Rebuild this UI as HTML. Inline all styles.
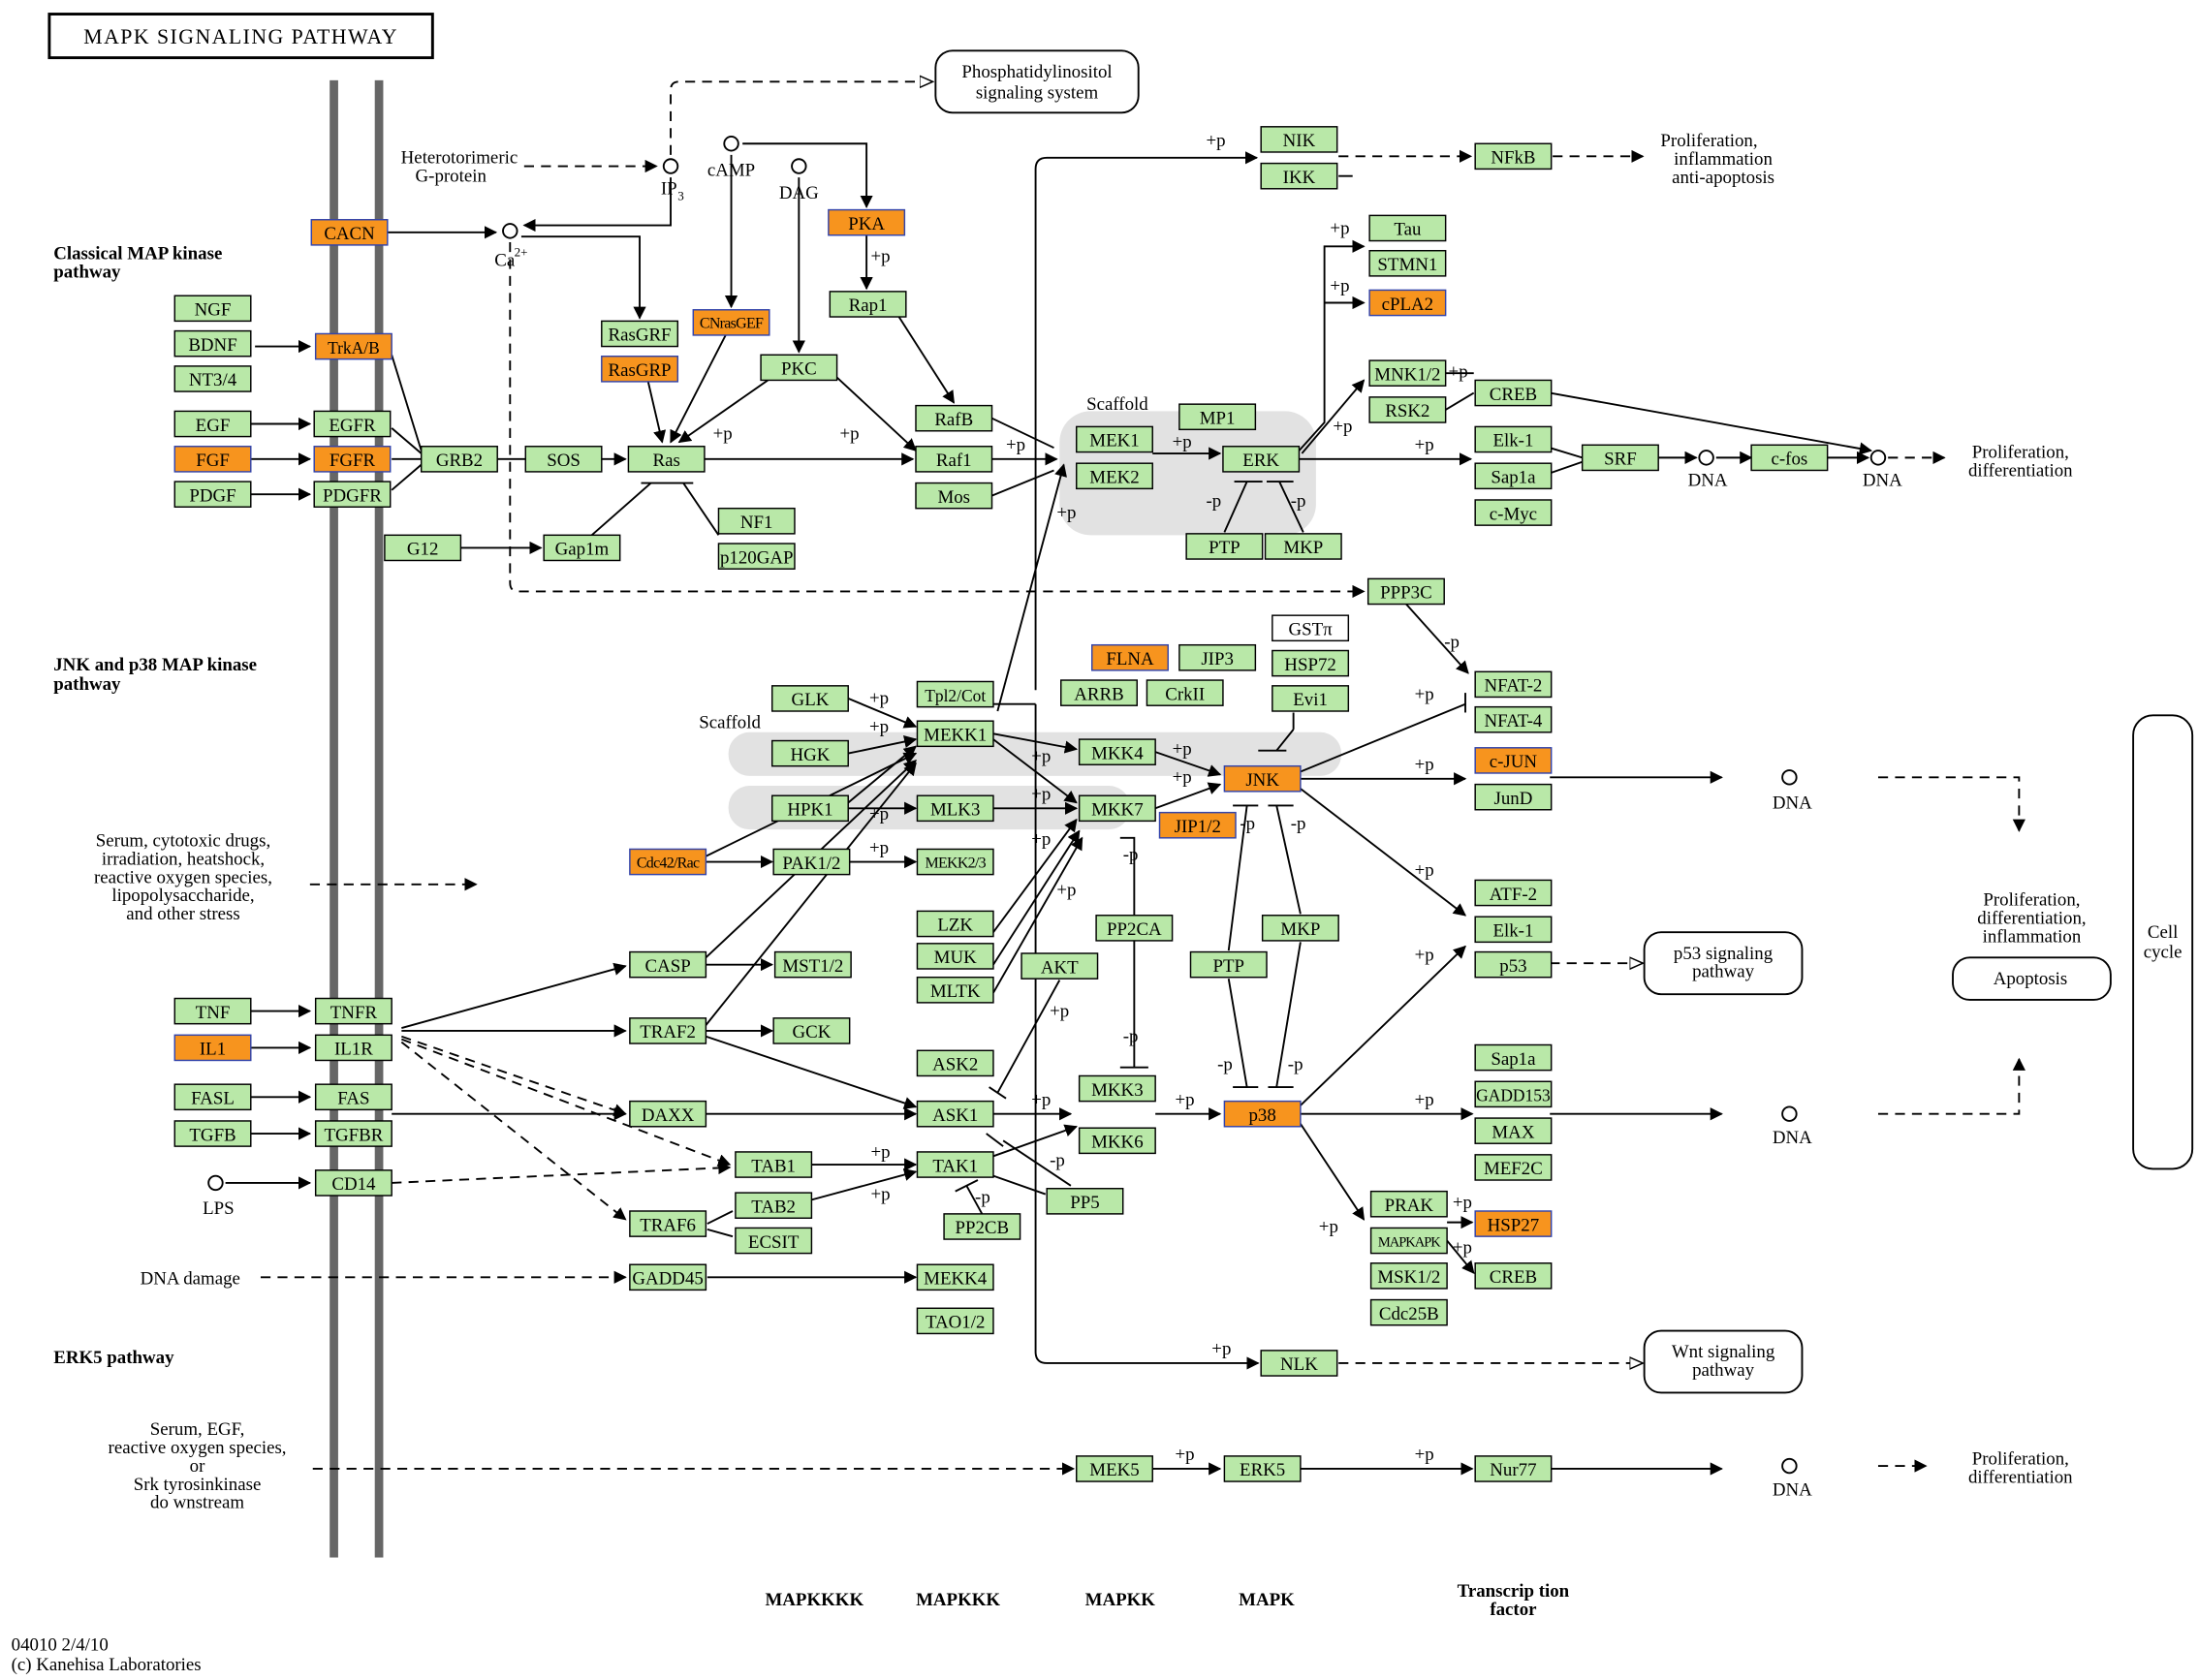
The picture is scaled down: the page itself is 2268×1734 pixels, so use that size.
<!DOCTYPE html>
<html><head><meta charset="utf-8"><style>
html,body{margin:0;padding:0;background:#fff;}
svg{display:block;}
text{font-family:"Liberation Serif",serif;font-size:13px;fill:#000;}
.n{fill:#b9e8a8;stroke:#000;stroke-width:1;}
.o{fill:#f7941e;stroke:#3344aa;stroke-width:1;}
.w{fill:#fff;stroke:#000;stroke-width:1;}
.l{stroke:#000;stroke-width:1.3;fill:none;}
.d{stroke:#000;stroke-width:1.3;fill:none;stroke-dasharray:7 5;}
.b{font-weight:bold;font-size:13px;}
.s{font-size:12px;}
</style></head><body>
<svg width="2268" height="1734" viewBox="0 0 1560 1193" preserveAspectRatio="none" xmlns="http://www.w3.org/2000/svg">
<defs>
<marker id="a" viewBox="0 0 10 10" refX="9" refY="5" markerWidth="7" markerHeight="7" orient="auto"><path d="M0,0 L10,5 L0,10z" fill="#000"/></marker>
<marker id="oa" viewBox="0 0 10 10" refX="9" refY="5" markerWidth="8" markerHeight="8" orient="auto"><path d="M0,1 L9,5 L0,9z" fill="#fff" stroke="#000"/></marker>
</defs>
<rect width="1560" height="1193" fill="#fff"/>
<rect x="35" y="10" width="272" height="31" fill="#fff" stroke="#000" stroke-width="2"/>
<text x="171" y="31" style="text-anchor:middle;font-size:15px;letter-spacing:1px">MAPK SIGNALING PATHWAY</text>
<rect x="234" y="57" width="6" height="1049" fill="#666"/>
<rect x="266" y="57" width="6" height="1049" fill="#666"/>
<rect x="752" y="292" width="182" height="88" rx="22" fill="#e2e2e2"/>
<rect x="517" y="520" width="435" height="31" rx="15" fill="#e2e2e2"/>
<rect x="517" y="558" width="285" height="31" rx="15" fill="#e2e2e2"/>

<g>
<path class="l" d="M181,246 H220" marker-end="url(#a)"/>
<path class="l" d="M178,301 H220" marker-end="url(#a)"/>
<path class="l" d="M178,326 H220" marker-end="url(#a)"/>
<path class="l" d="M178,351 H220" marker-end="url(#a)"/>
<path class="l" d="M278,252 L299,320 M278,304 L299,322 M278,326 H299 M278,348 L299,330"/>
<path class="l" d="M353,326 H373"/>
<path class="l" d="M427,326 H444" marker-end="url(#a)"/>
<path class="l" d="M500,326 H648" marker-end="url(#a)"/>
<path class="l" d="M275,165 H352" marker-end="url(#a)"/>
<path class="l" d="M476,126 V160 H372" marker-end="url(#a)"/>
<path class="l" d="M370,168 H454 V226" marker-end="url(#a)"/>
<path class="l" d="M527,102 H615 V147" marker-end="url(#a)"/>
<path class="l" d="M519,110 V218" marker-end="url(#a)"/>
<path class="l" d="M567,126 V250" marker-end="url(#a)"/>
<path class="l" d="M615,167 V205" marker-end="url(#a)"/>
<path class="l" d="M638,225 L677,286" marker-end="url(#a)"/>
<path class="l" d="M594,268 L650,320" marker-end="url(#a)"/>
<path class="l" d="M545,270 L482,314" marker-end="url(#a)"/>
<path class="l" d="M460,271 L470,314" marker-end="url(#a)"/>
<path class="l" d="M515,238 L476,314" marker-end="url(#a)"/>
<path class="l" d="M327,389 H384" marker-end="url(#a)"/>
<path class="l" d="M420,380 L462,343 M510,380 L485,343 M455,343 H492"/>
<path class="l" d="M704,326 H750" marker-end="url(#a)"/>
<path class="l" d="M704,297 L748,318 M704,352 L748,334"/>
<path class="l" d="M818,322 H866" marker-end="url(#a)"/>
<path class="l" d="M922,320 L940,300 V175 H968" marker-end="url(#a)"/>
<path class="l" d="M940,215 H968" marker-end="url(#a)"/>
<path class="l" d="M924,322 L968,270" marker-end="url(#a)"/>
<path class="l" d="M922,326 H1044" marker-end="url(#a)"/>
<path class="l" d="M869,378 L885,342 M925,378 L908,342 M876,342 H896 M899,342 H918"/>
<path class="l" d="M1100,318 L1123,325 M1100,336 L1123,328"/>
<path class="l" d="M1177,325 H1204" marker-end="url(#a)"/>
<path class="l" d="M1218,325 H1243" marker-end="url(#a)"/>
<path class="l" d="M1297,325 H1326" marker-end="url(#a)"/>
<path class="l" d="M1100,279 L1328,320" marker-end="url(#a)"/>
<path class="l" d="M1026,291 L1046,279"/>
<path class="l" d="M1026,265 H1046"/>
<path class="l" d="M735,500 H705 M735,490 V120 Q735,112 743,112 H892" marker-end="url(#a)"/>
<path class="l" d="M735,500 V960 Q735,968 743,968 H893" marker-end="url(#a)"/>
<path class="l" d="M708,505 L755,330" marker-end="url(#a)"/>
<path class="l" d="M950,125 H960"/>
<path class="l" d="M705,521 L764,532" marker-end="url(#a)"/>
<path class="l" d="M705,525 L764,570" marker-end="url(#a)"/>
<path class="l" d="M820,534 L866,550" marker-end="url(#a)"/>
<path class="l" d="M820,574 L866,557" marker-end="url(#a)"/>
<path class="l" d="M923,553 H1040" marker-end="url(#a)"/>
<path class="l" d="M923,548 L1040,500"/>
<path class="l" d="M1040,492 V506"/>
<path class="l" d="M923,560 L1040,650" marker-end="url(#a)"/>
<path class="l" d="M998,429 L1042,478" marker-end="url(#a)"/>
<path class="l" d="M918,506 V518 M906,533 L918,518 M893,533 H913"/>
<path class="l" d="M1100,552 H1222" marker-end="url(#a)"/>
<path class="l" d="M602,496 L650,516" marker-end="url(#a)"/>
<path class="l" d="M602,535 L650,525" marker-end="url(#a)"/>
<path class="l" d="M602,570 L650,530" marker-end="url(#a)"/>
<path class="l" d="M501,608 L650,535" marker-end="url(#a)"/>
<path class="l" d="M602,574 H650" marker-end="url(#a)"/>
<path class="l" d="M705,574 H764" marker-end="url(#a)"/>
<path class="l" d="M501,612 H548" marker-end="url(#a)"/>
<path class="l" d="M603,612 H650" marker-end="url(#a)"/>
<path class="l" d="M705,662 L764,582" marker-end="url(#a)"/>
<path class="l" d="M705,685 L766,590" marker-end="url(#a)"/>
<path class="l" d="M705,705 L768,595" marker-end="url(#a)"/>
<path class="l" d="M501,680 L650,540" marker-end="url(#a)"/>
<path class="l" d="M501,685 H548" marker-end="url(#a)"/>
<path class="l" d="M501,728 L650,542" marker-end="url(#a)"/>
<path class="l" d="M501,732 H548" marker-end="url(#a)"/>
<path class="l" d="M501,736 L650,786" marker-end="url(#a)"/>
<path class="l" d="M501,791 H650" marker-end="url(#a)"/>
<path class="l" d="M705,791 H760" marker-end="url(#a)"/>
<path class="l" d="M820,791 H866" marker-end="url(#a)"/>
<path class="l" d="M923,791 H1045" marker-end="url(#a)"/>
<path class="l" d="M923,785 L1040,672" marker-end="url(#a)"/>
<path class="l" d="M923,798 L968,866" marker-end="url(#a)"/>
<path class="l" d="M1100,791 H1222" marker-end="url(#a)"/>
<path class="l" d="M1027,868 H1045" marker-end="url(#a)"/>
<path class="l" d="M1027,881 L1046,904" marker-end="url(#a)"/>
<path class="l" d="M872,675 L885,572 M923,649 L906,572 M875,572 H893 M900,572 H918"/>
<path class="l" d="M872,695 L885,772 M923,669 L906,772 M875,772 H893 M900,772 H918"/>
<path class="l" d="M805,668 V758 M795,758 H815 M795,595 H805 L805,650"/>
<path class="l" d="M752,696 L708,776 M702,772 L714,780"/>
<path class="l" d="M178,718 H220" marker-end="url(#a)"/>
<path class="l" d="M178,744 H220" marker-end="url(#a)"/>
<path class="l" d="M178,779 H220" marker-end="url(#a)"/>
<path class="l" d="M178,805 H220" marker-end="url(#a)"/>
<path class="l" d="M160,840 H220" marker-end="url(#a)"/>
<path class="l" d="M285,730 L444,686" marker-end="url(#a)"/>
<path class="l" d="M285,732 H444" marker-end="url(#a)"/>
<path class="l" d="M278,791 H444" marker-end="url(#a)"/>
<path class="l" d="M576,827 H650" marker-end="url(#a)"/>
<path class="l" d="M576,852 L650,832" marker-end="url(#a)"/>
<path class="l" d="M502,869 L520,860 M502,873 L520,878"/>
<path class="l" d="M502,907 H650" marker-end="url(#a)"/>
<path class="l" d="M705,821 L764,800" marker-end="url(#a)"/>
<path class="l" d="M705,835 L742,848 M686,842 L697,862 M678,846 L694,838"/>
<path class="l" d="M700,805 L712,814 M712,810 L760,842"/>
<path class="l" d="M818,1043 H866" marker-end="url(#a)"/>
<path class="l" d="M923,1043 H1045" marker-end="url(#a)"/>
<path class="l" d="M1100,1043 H1222" marker-end="url(#a)"/>
</g>
<g>
<path class="d" d="M372,118 H466" marker-end="url(#a)"/>
<path class="d" d="M476,110 V64 Q476,58 482,58 H662" marker-end="url(#oa)"/>
<path class="d" d="M362,172 V414 Q362,420 368,420 H968" marker-end="url(#a)"/>
<path class="d" d="M950,111 H1044" marker-end="url(#a)"/>
<path class="d" d="M1102,111 H1166" marker-end="url(#a)"/>
<path class="d" d="M1340,325 H1380" marker-end="url(#a)"/>
<path class="d" d="M220,628 H338" marker-end="url(#a)"/>
<path class="d" d="M285,736 L444,791" marker-end="url(#a)"/>
<path class="d" d="M285,738 L518,827" marker-end="url(#a)"/>
<path class="d" d="M285,740 L444,866" marker-end="url(#a)"/>
<path class="d" d="M278,840 L518,829" marker-end="url(#a)"/>
<path class="d" d="M185,907 H444" marker-end="url(#a)"/>
<path class="d" d="M222,1043 H762" marker-end="url(#a)"/>
<path class="d" d="M950,968 H1166" marker-end="url(#oa)"/>
<path class="d" d="M1100,684 H1166" marker-end="url(#oa)"/>
<path class="d" d="M1333,552 H1433 V590" marker-end="url(#a)"/>
<path class="d" d="M1333,791 H1433 V752" marker-end="url(#a)"/>
<path class="d" d="M1333,1041 H1367" marker-end="url(#a)"/>
</g>

<g fill="#fff" stroke="#000" stroke-width="1.3">
<circle cx="476" cy="118" r="5"/><circle cx="362" cy="164" r="5"/><circle cx="519" cy="102" r="5"/><circle cx="567" cy="118" r="5"/>
<circle cx="1211" cy="325" r="5"/><circle cx="1333" cy="325" r="5"/><circle cx="1270" cy="552" r="5"/><circle cx="1270" cy="791" r="5"/><circle cx="1270" cy="1041" r="5"/><circle cx="153" cy="840" r="5"/>
</g>

<g fill="#fff" stroke="#000" stroke-width="1.3">
<rect x="664" y="36" width="144" height="44" rx="12"/>
<rect x="1167" y="662" width="112" height="44" rx="12"/>
<rect x="1167" y="945" width="112" height="44" rx="12"/>
<rect x="1386" y="680" width="112" height="30" rx="12"/>
<rect x="1514" y="508" width="42" height="322" rx="14"/>
</g>
<g style="text-anchor:middle">
<text x="736" y="55">Phosphatidylinositol</text><text x="736" y="70">signaling system</text>
<text x="1223" y="681">p53 signaling</text><text x="1223" y="694">pathway</text>
<text x="1223" y="964">Wnt signaling</text><text x="1223" y="977">pathway</text>
<text x="1441" y="699">Apoptosis</text>
<text x="1535" y="666">Cell</text><text x="1535" y="680">cycle</text>
</g>

<g>
<rect class="o" x="221" y="156" width="54" height="18"/>
<rect class="o" x="224" y="237" width="54" height="18"/>
<rect class="n" x="223" y="292" width="54" height="18"/>
<rect class="o" x="223" y="317" width="54" height="18"/>
<rect class="n" x="223" y="342" width="54" height="18"/>
<rect class="n" x="124" y="210" width="54" height="18"/>
<rect class="n" x="124" y="235" width="54" height="18"/>
<rect class="n" x="124" y="260" width="54" height="18"/>
<rect class="n" x="124" y="292" width="54" height="18"/>
<rect class="o" x="124" y="317" width="54" height="18"/>
<rect class="n" x="124" y="342" width="54" height="18"/>
<rect class="n" x="299" y="317" width="54" height="18"/>
<rect class="n" x="373" y="317" width="54" height="18"/>
<rect class="n" x="446" y="317" width="54" height="18"/>
<rect class="n" x="273" y="380" width="54" height="18"/>
<rect class="n" x="386" y="380" width="54" height="18"/>
<rect class="n" x="427" y="228" width="54" height="18"/>
<rect class="o" x="427" y="253" width="54" height="18"/>
<rect class="o" x="492" y="220" width="54" height="18"/>
<rect class="n" x="540" y="252" width="54" height="18"/>
<rect class="o" x="588" y="149" width="54" height="18"/>
<rect class="n" x="589" y="207" width="54" height="18"/>
<rect class="n" x="650" y="288" width="54" height="18"/>
<rect class="n" x="650" y="317" width="54" height="18"/>
<rect class="n" x="650" y="343" width="54" height="18"/>
<rect class="n" x="510" y="361" width="54" height="18"/>
<rect class="n" x="510" y="386" width="54" height="18"/>
<rect class="n" x="764" y="303" width="54" height="18"/>
<rect class="n" x="764" y="329" width="54" height="18"/>
<rect class="n" x="837" y="287" width="54" height="18"/>
<rect class="n" x="868" y="317" width="54" height="18"/>
<rect class="n" x="842" y="379" width="54" height="18"/>
<rect class="n" x="898" y="379" width="54" height="18"/>
<rect class="n" x="895" y="90" width="54" height="18"/>
<rect class="n" x="895" y="116" width="54" height="18"/>
<rect class="n" x="1047" y="102" width="54" height="18"/>
<rect class="n" x="972" y="153" width="54" height="18"/>
<rect class="n" x="972" y="178" width="54" height="18"/>
<rect class="o" x="972" y="206" width="54" height="18"/>
<rect class="n" x="972" y="256" width="54" height="18"/>
<rect class="n" x="972" y="282" width="54" height="18"/>
<rect class="n" x="1047" y="270" width="54" height="18"/>
<rect class="n" x="1047" y="303" width="54" height="18"/>
<rect class="n" x="1047" y="329" width="54" height="18"/>
<rect class="n" x="1047" y="355" width="54" height="18"/>
<rect class="n" x="1123" y="316" width="54" height="18"/>
<rect class="n" x="1243" y="316" width="54" height="18"/>
<rect class="n" x="971" y="411" width="54" height="18"/>
<rect class="n" x="1047" y="477" width="54" height="18"/>
<rect class="n" x="1047" y="502" width="54" height="18"/>
<rect class="o" x="1047" y="531" width="54" height="18"/>
<rect class="n" x="1047" y="557" width="54" height="18"/>
<rect class="w" x="903" y="437" width="54" height="18"/>
<rect class="n" x="903" y="462" width="54" height="18"/>
<rect class="n" x="903" y="487" width="54" height="18"/>
<rect class="o" x="775" y="458" width="54" height="18"/>
<rect class="n" x="837" y="458" width="54" height="18"/>
<rect class="n" x="753" y="483" width="54" height="18"/>
<rect class="n" x="814" y="483" width="54" height="18"/>
<rect class="n" x="548" y="487" width="54" height="18"/>
<rect class="n" x="651" y="484" width="54" height="18"/>
<rect class="n" x="548" y="526" width="54" height="18"/>
<rect class="n" x="651" y="512" width="54" height="18"/>
<rect class="n" x="766" y="525" width="54" height="18"/>
<rect class="n" x="766" y="565" width="54" height="18"/>
<rect class="o" x="869" y="544" width="54" height="18"/>
<rect class="o" x="823" y="577" width="54" height="18"/>
<rect class="n" x="548" y="565" width="54" height="18"/>
<rect class="n" x="651" y="565" width="54" height="18"/>
<rect class="o" x="447" y="603" width="54" height="18"/>
<rect class="n" x="549" y="603" width="54" height="18"/>
<rect class="n" x="651" y="603" width="54" height="18"/>
<rect class="n" x="651" y="647" width="54" height="18"/>
<rect class="n" x="651" y="670" width="54" height="18"/>
<rect class="n" x="651" y="694" width="54" height="18"/>
<rect class="n" x="725" y="677" width="54" height="18"/>
<rect class="n" x="778" y="650" width="54" height="18"/>
<rect class="n" x="845" y="676" width="54" height="18"/>
<rect class="n" x="896" y="650" width="54" height="18"/>
<rect class="n" x="1047" y="625" width="54" height="18"/>
<rect class="n" x="1047" y="651" width="54" height="18"/>
<rect class="n" x="1047" y="676" width="54" height="18"/>
<rect class="n" x="447" y="676" width="54" height="18"/>
<rect class="n" x="550" y="676" width="54" height="18"/>
<rect class="n" x="124" y="709" width="54" height="18"/>
<rect class="o" x="124" y="735" width="54" height="18"/>
<rect class="n" x="224" y="709" width="54" height="18"/>
<rect class="n" x="224" y="735" width="54" height="18"/>
<rect class="n" x="124" y="770" width="54" height="18"/>
<rect class="n" x="124" y="796" width="54" height="18"/>
<rect class="n" x="224" y="770" width="54" height="18"/>
<rect class="n" x="224" y="796" width="54" height="18"/>
<rect class="n" x="224" y="831" width="54" height="18"/>
<rect class="n" x="447" y="723" width="54" height="18"/>
<rect class="n" x="549" y="723" width="54" height="18"/>
<rect class="n" x="651" y="746" width="54" height="18"/>
<rect class="n" x="651" y="782" width="54" height="18"/>
<rect class="n" x="447" y="782" width="54" height="18"/>
<rect class="n" x="766" y="764" width="54" height="18"/>
<rect class="n" x="766" y="801" width="54" height="18"/>
<rect class="o" x="869" y="782" width="54" height="18"/>
<rect class="n" x="1047" y="742" width="54" height="18"/>
<rect class="n" x="1047" y="768" width="54" height="18"/>
<rect class="n" x="1047" y="794" width="54" height="18"/>
<rect class="n" x="1047" y="820" width="54" height="18"/>
<rect class="n" x="522" y="818" width="54" height="18"/>
<rect class="n" x="651" y="818" width="54" height="18"/>
<rect class="n" x="522" y="847" width="54" height="18"/>
<rect class="n" x="522" y="872" width="54" height="18"/>
<rect class="n" x="447" y="860" width="54" height="18"/>
<rect class="n" x="670" y="862" width="54" height="18"/>
<rect class="n" x="743" y="844" width="54" height="18"/>
<rect class="n" x="973" y="846" width="54" height="18"/>
<rect class="n" x="973" y="872" width="54" height="18"/>
<rect class="n" x="973" y="897" width="54" height="18"/>
<rect class="n" x="973" y="923" width="54" height="18"/>
<rect class="o" x="1047" y="860" width="54" height="18"/>
<rect class="n" x="1047" y="897" width="54" height="18"/>
<rect class="n" x="447" y="898" width="54" height="18"/>
<rect class="n" x="651" y="898" width="54" height="18"/>
<rect class="n" x="651" y="929" width="54" height="18"/>
<rect class="n" x="895" y="959" width="54" height="18"/>
<rect class="n" x="764" y="1034" width="54" height="18"/>
<rect class="n" x="869" y="1034" width="54" height="18"/>
<rect class="n" x="1047" y="1034" width="54" height="18"/>
</g>
<g style="text-anchor:middle">
<text x="248" y="170">CACN</text>
<text x="251" y="251" style="font-size:12px">TrkA/B</text>
<text x="250" y="306">EGFR</text><text x="250" y="331">FGFR</text><text x="250" y="356">PDGFR</text>
<text x="151" y="224">NGF</text><text x="151" y="249">BDNF</text><text x="151" y="274">NT3/4</text>
<text x="151" y="306">EGF</text><text x="151" y="331">FGF</text><text x="151" y="356">PDGF</text>
<text x="326" y="331">GRB2</text><text x="400" y="331">SOS</text><text x="473" y="331">Ras</text>
<text x="300" y="394">G12</text><text x="413" y="394">Gap1m</text>
<text x="454" y="242">RasGRF</text><text x="454" y="267">RasGRP</text>
<text x="519" y="233" style="font-size:11px;letter-spacing:-0.5px">CNrasGEF</text>
<text x="567" y="266">PKC</text><text x="615" y="163">PKA</text><text x="616" y="221">Rap1</text>
<text x="677" y="302">RafB</text><text x="677" y="331">Raf1</text><text x="677" y="357">Mos</text>
<text x="537" y="375">NF1</text><text x="537" y="400">p120GAP</text>
<text x="791" y="317">MEK1</text><text x="791" y="343">MEK2</text><text x="864" y="301">MP1</text><text x="895" y="331">ERK</text>
<text x="869" y="393">PTP</text><text x="925" y="393">MKP</text>
<text x="922" y="104">NIK</text><text x="922" y="130">IKK</text><text x="1074" y="116">NFkB</text>
<text x="999" y="167">Tau</text><text x="999" y="192">STMN1</text><text x="999" y="220">cPLA2</text>
<text x="999" y="270">MNK1/2</text><text x="999" y="296">RSK2</text><text x="1074" y="284">CREB</text>
<text x="1074" y="317">Elk-1</text><text x="1074" y="343">Sap1a</text><text x="1074" y="369">c-Myc</text>
<text x="1150" y="330">SRF</text><text x="1270" y="330">c-fos</text><text x="998" y="425">PPP3C</text>
<text x="1074" y="491">NFAT-2</text><text x="1074" y="516">NFAT-4</text><text x="1074" y="545">c-JUN</text><text x="1074" y="571">JunD</text>
<text x="930" y="451">GSTπ</text><text x="930" y="476">HSP72</text><text x="930" y="501">Evi1</text>
<text x="802" y="472">FLNA</text><text x="864" y="472">JIP3</text><text x="780" y="497">ARRB</text><text x="841" y="497">CrkII</text>
<text x="575" y="501">GLK</text><text x="678" y="498" style="font-size:12px">Tpl2/Cot</text><text x="575" y="540">HGK</text><text x="678" y="526">MEKK1</text>
<text x="793" y="539">MKK4</text><text x="793" y="579">MKK7</text><text x="896" y="558">JNK</text><text x="850" y="591">JIP1/2</text>
<text x="575" y="579">HPK1</text><text x="678" y="579">MLK3</text>
<text x="474" y="616" style="font-size:11px;letter-spacing:-0.5px">Cdc42/Rac</text><text x="576" y="617">PAK1/2</text><text x="678" y="616" style="font-size:11px;letter-spacing:-0.5px">MEKK2/3</text>
<text x="678" y="661">LZK</text><text x="678" y="684">MUK</text><text x="678" y="708">MLTK</text><text x="752" y="691">AKT</text>
<text x="805" y="664">PP2CA</text><text x="872" y="690">PTP</text><text x="923" y="664">MKP</text>
<text x="1074" y="639">ATF-2</text><text x="1074" y="665">Elk-1</text><text x="1074" y="690">p53</text>
<text x="474" y="690">CASP</text><text x="577" y="690">MST1/2</text>
<text x="151" y="723">TNF</text><text x="151" y="749">IL1</text><text x="251" y="723">TNFR</text><text x="251" y="749">IL1R</text>
<text x="151" y="784">FASL</text><text x="151" y="810">TGFB</text><text x="251" y="784">FAS</text><text x="251" y="810">TGFBR</text><text x="251" y="845">CD14</text>
<text x="474" y="737">TRAF2</text><text x="576" y="737">GCK</text><text x="678" y="760">ASK2</text><text x="678" y="796">ASK1</text><text x="474" y="796">DAXX</text>
<text x="793" y="778">MKK3</text><text x="793" y="815">MKK6</text><text x="896" y="796">p38</text>
<text x="1074" y="756">Sap1a</text><text x="1074" y="782" style="font-size:12px">GADD153</text><text x="1074" y="808">MAX</text><text x="1074" y="834">MEF2C</text>
<text x="549" y="832">TAB1</text><text x="678" y="832">TAK1</text><text x="549" y="861">TAB2</text><text x="549" y="886">ECSIT</text><text x="474" y="874">TRAF6</text>
<text x="697" y="876">PP2CB</text><text x="770" y="858">PP5</text>
<text x="1000" y="860">PRAK</text><text x="1000" y="885" style="font-size:10px;letter-spacing:-0.7px">MAPKAPK</text><text x="1000" y="911">MSK1/2</text><text x="1000" y="937">Cdc25B</text>
<text x="1074" y="874">HSP27</text><text x="1074" y="911">CREB</text>
<text x="474" y="912">GADD45</text><text x="678" y="912">MEKK4</text><text x="678" y="943">TAO1/2</text>
<text x="922" y="973">NLK</text><text x="791" y="1048">MEK5</text><text x="896" y="1048">ERK5</text><text x="1074" y="1048">Nur77</text>
</g>

<g class="s">
<text x="326" y="116" style="text-anchor:middle">Heterotorimeric</text><text x="320" y="129" style="text-anchor:middle">G-protein</text>
<text x="469" y="138">IP</text><text x="481" y="142" style="font-size:9px">3</text>
<text x="519" y="125" style="text-anchor:middle">cAMP</text><text x="567" y="141" style="text-anchor:middle">DAG</text>
<text x="351" y="189">Ca</text><text x="365" y="182" style="font-size:9px">2+</text>
<text x="1213" y="104" style="text-anchor:middle">Proliferation,</text><text x="1223" y="117" style="text-anchor:middle">inflammation</text><text x="1223" y="130" style="text-anchor:middle">anti-apoptosis</text>
<text x="1434" y="325" style="text-anchor:middle">Proliferation,</text><text x="1434" y="338" style="text-anchor:middle">differentiation</text>
<text x="1212" y="345" style="text-anchor:middle">DNA</text><text x="1336" y="345" style="text-anchor:middle">DNA</text>
<text x="1272" y="574" style="text-anchor:middle">DNA</text><text x="1272" y="812" style="text-anchor:middle">DNA</text><text x="1272" y="1062" style="text-anchor:middle">DNA</text>
<text x="155" y="862" style="text-anchor:middle">LPS</text>
<text x="1442" y="643" style="text-anchor:middle">Proliferation,</text><text x="1442" y="656" style="text-anchor:middle">differentiation,</text><text x="1442" y="669" style="text-anchor:middle">inflammation</text>
<text x="1434" y="1040" style="text-anchor:middle">Proliferation,</text><text x="1434" y="1053" style="text-anchor:middle">differentiation</text>
<text x="793" y="291" style="text-anchor:middle">Scaffold</text><text x="518" y="517" style="text-anchor:middle">Scaffold</text>
<text x="130" y="601" style="text-anchor:middle">Serum, cytotoxic drugs,</text><text x="130" y="614" style="text-anchor:middle">irradiation, heatshock,</text><text x="130" y="627" style="text-anchor:middle">reactive oxygen species,</text><text x="130" y="640" style="text-anchor:middle">lipopolysaccharide,</text><text x="130" y="653" style="text-anchor:middle">and other stress</text>
<text x="135" y="912" style="text-anchor:middle">DNA damage</text>
<text x="140" y="1019" style="text-anchor:middle">Serum, EGF,</text><text x="140" y="1032" style="text-anchor:middle">reactive oxygen species,</text><text x="140" y="1045" style="text-anchor:middle">or</text><text x="140" y="1058" style="text-anchor:middle">Srk tyrosinkinase</text><text x="140" y="1071" style="text-anchor:middle">do wnstream</text>
<text x="8" y="1172">04010 2/4/10</text><text x="8" y="1186">(c) Kanehisa Laboratories</text>
</g>
<g>
<text x="38" y="184" class="b">Classical MAP kinase</text><text x="38" y="197" class="b">pathway</text>
<text x="38" y="476" class="b">JNK and p38 MAP kinase</text><text x="38" y="490" class="b">pathway</text>
<text x="38" y="968" class="b">ERK5 pathway</text>
<text x="578" y="1140" class="b" style="text-anchor:middle">MAPKKKK</text><text x="680" y="1140" class="b" style="text-anchor:middle">MAPKKK</text>
<text x="795" y="1140" class="b" style="text-anchor:middle">MAPKK</text><text x="899" y="1140" class="b" style="text-anchor:middle">MAPK</text>
<text x="1074" y="1134" class="b" style="text-anchor:middle">Transcrip tion</text><text x="1074" y="1147" class="b" style="text-anchor:middle">factor</text>
</g>
<g class="s">
<text x="618" y="186">+p</text><text x="506" y="312">+p</text><text x="596" y="312">+p</text><text x="714" y="320">+p</text>
<text x="832" y="318">+p</text><text x="750" y="368">+p</text><text x="856" y="104">+p</text>
<text x="944" y="166">+p</text><text x="944" y="207">+p</text><text x="946" y="307">+p</text><text x="1028" y="268">+p</text><text x="1004" y="320">+p</text>
<text x="856" y="360">-p</text><text x="916" y="360">-p</text>
<text x="1025" y="460">-p</text><text x="1004" y="497">+p</text><text x="1004" y="547">+p</text><text x="1004" y="622">+p</text><text x="1004" y="682">+p</text>
<text x="617" y="500">+p</text><text x="617" y="520">+p</text><text x="617" y="582">+p</text><text x="617" y="606">+p</text>
<text x="732" y="541">+p</text><text x="732" y="568">+p</text><text x="832" y="536">+p</text><text x="832" y="556">+p</text>
<text x="732" y="600">+p</text><text x="750" y="636">+p</text><text x="797" y="611">-p</text>
<text x="880" y="589">-p</text><text x="916" y="589">-p</text><text x="797" y="740">-p</text>
<text x="745" y="722">+p</text><text x="732" y="785">+p</text><text x="834" y="785">+p</text>
<text x="864" y="760">-p</text><text x="914" y="760">-p</text><text x="1004" y="785">+p</text>
<text x="618" y="822">+p</text><text x="618" y="852">+p</text><text x="745" y="828">-p</text><text x="692" y="854">-p</text>
<text x="936" y="875">+p</text><text x="1031" y="858">+p</text><text x="1031" y="890">+p</text>
<text x="860" y="962">+p</text><text x="834" y="1037">+p</text><text x="1004" y="1037">+p</text>
</g>
</svg>
</body></html>
